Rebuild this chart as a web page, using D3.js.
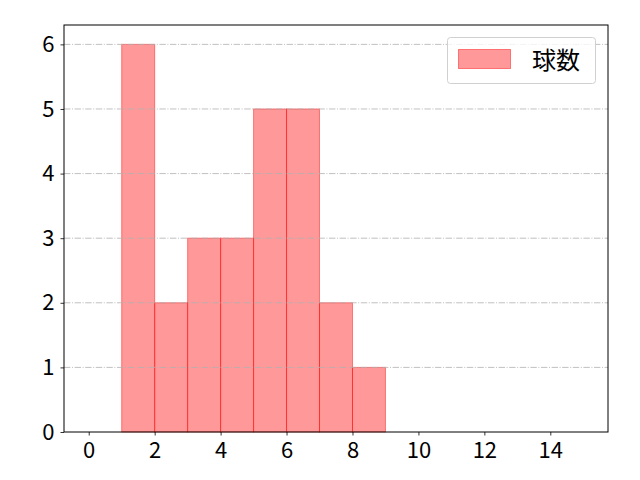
<!DOCTYPE html>
<html>
<head>
<meta charset="utf-8">
<script src="https://d3js.org/d3.v7.min.js"></script>
<style>
  body { margin: 0; background: #fff; }
  text { font-family: "Noto Sans CJK JP", "DejaVu Sans", sans-serif; }
</style>
</head>
<body>
<svg width="640" height="480"></svg>
<script>
// histogram bins (left edge, right edge) and counts
const binStarts = [1, 2, 3, 4, 5, 6, 7, 8];
const binWidth = 1;
const counts = [6, 2, 3, 3, 5, 5, 2, 1];
const xTicks = [0, 2, 4, 6, 8, 10, 12, 14];
const yTicks = [0, 1, 2, 3, 4, 5, 6];
const seriesName = "球数";

const svg = d3.select("svg");
const plotL = 64, plotR = 608, plotT = 25, plotB = 432;

const x = d3.scaleLinear().domain([-0.75, 15.75]).range([plotL, plotR]);
const y = d3.scaleLinear().domain([0, 6.3]).range([plotB, plotT]);

// bars
svg.append("g")
  .selectAll("rect")
  .data(binStarts)
  .join("rect")
  .attr("x", d => x(d))
  .attr("y", (d, i) => y(counts[i]))
  .attr("width", d => x(d + binWidth) - x(d))
  .attr("height", (d, i) => y(0) - y(counts[i]))
  .attr("fill", "red")
  .attr("fill-opacity", 0.4)
  .attr("stroke", "red")
  .attr("stroke-opacity", 0.45)
  .attr("stroke-width", 1);

// grid on top of bars
svg.append("g")
  .selectAll("line")
  .data(yTicks.filter(d => d > 0))
  .join("line")
  .attr("x1", plotL).attr("x2", plotR)
  .attr("y1", d => y(d)).attr("y2", d => y(d))
  .attr("stroke", "#b0b0b0")
  .attr("stroke-width", 0.8)
  .attr("stroke-dasharray", "6.4,1.6,1,1.6");

// axes
const xAxis = svg.append("g")
  .attr("transform", `translate(0,${plotB})`)
  .call(d3.axisBottom(x).tickValues(xTicks).tickSize(3.5).tickPadding(4).tickFormat(d3.format("d")));
const yAxis = svg.append("g")
  .attr("transform", `translate(${plotL},0)`)
  .call(d3.axisLeft(y).tickValues(yTicks).tickSize(3.5).tickPadding(6).tickFormat(d3.format("d")));
[xAxis, yAxis].forEach(g => {
  g.select(".domain").remove();
  g.selectAll("line").attr("stroke", "#000").attr("stroke-width", 0.8);
  g.selectAll("text").attr("font-size", 22).attr("fill", "#000")
    .attr("font-family", "'Noto Sans CJK JP', sans-serif");
});
xAxis.selectAll("text").attr("dy", "0.82em");

// frame
svg.append("rect")
  .attr("x", plotL).attr("y", plotT)
  .attr("width", plotR - plotL).attr("height", plotB - plotT)
  .attr("fill", "none").attr("stroke", "#000").attr("stroke-width", 1);

// legend
const lg = svg.append("g");
lg.append("rect")
  .attr("x", 447.5).attr("y", 37.5).attr("width", 148).attr("height", 46)
  .attr("rx", 3).attr("fill", "#fff").attr("fill-opacity", 0.8)
  .attr("stroke", "#d0d0d0").attr("stroke-width", 1);
lg.append("rect")
  .attr("x", 458.5).attr("y", 49.5).attr("width", 52).attr("height", 19)
  .attr("fill", "red").attr("fill-opacity", 0.4)
  .attr("stroke", "red").attr("stroke-opacity", 0.45);
lg.append("text")
  .attr("x", 532).attr("y", 69)
  .attr("font-size", 24).attr("fill", "#000")
  .text(seriesName);
</script>
</body>
</html>
